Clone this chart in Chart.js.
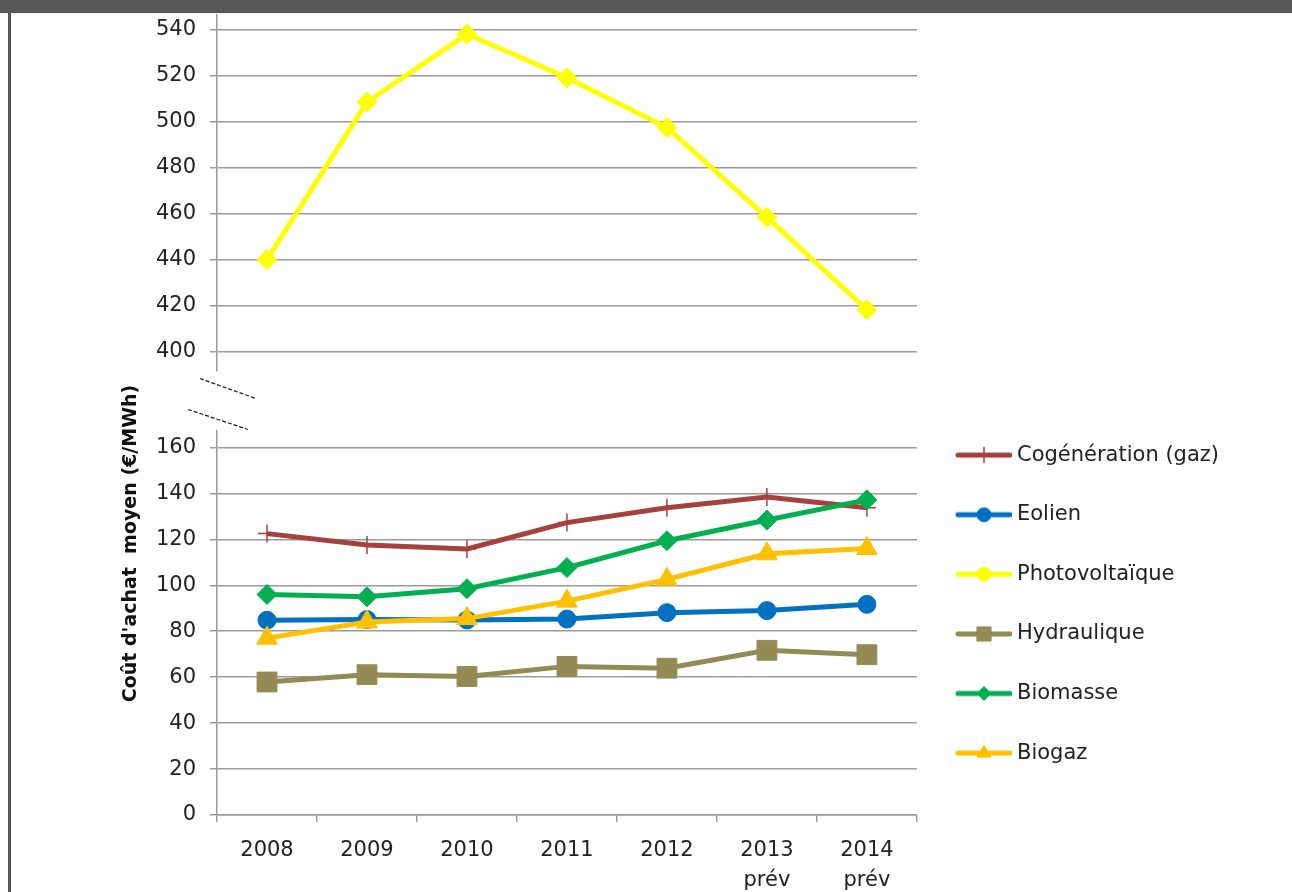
<!DOCTYPE html>
<html>
<head>
<meta charset="utf-8">
<script src="https://cdn.jsdelivr.net/npm/chart.js@4.4.0/dist/chart.umd.min.js"></script>
<style>
  html, body { margin: 0; padding: 0; background: #fff; overflow: hidden; }
  #wrap { position: relative; width: 1292px; height: 892px; }
  #wrap canvas { position: absolute; left: 0; top: 0; }
  #topbar { position: absolute; left: 0; top: 0; width: 1292px; height: 13px; background: #585858; }
  #leftbar { position: absolute; left: 8px; top: 13px; width: 3px; height: 879px; background: #585858; }
</style>
</head>
<body>
<div id="wrap">
  <canvas id="chart" width="1292" height="892"></canvas>
  <div id="topbar"></div>
  <div id="leftbar"></div>
</div>
<script>
/**
 * Coût d'achat moyen par filière (€/MWh), axe coupé
 */

// Categories
const YEARS = ['2008', '2009', '2010', '2011', '2012', ['2013', 'prév'], ['2014', 'prév']];

// Series values (€/MWh)
const COGENERATION = [122.5, 117.5, 115.8, 127.3, 133.8, 138.4, 133.8];
const EOLIEN = [84.8, 85.1, 84.9, 85.3, 88.1, 89.0, 91.7];
const PHOTOVOLTAIQUE = [440.0, 508.6, 538.2, 519.2, 497.5, 458.4, 418.2];
const HYDRAULIQUE = [57.9, 61.1, 60.3, 64.7, 63.9, 71.7, 69.8];
const BIOMASSE = [96.0, 95.0, 98.5, 107.7, 119.4, 128.4, 137.2];
const BIOGAZ = [77.0, 84.0, 85.5, 93.1, 102.6, 113.7, 116.0];

// Tick labels of the two parts of the broken axis
const UPPER_TICKS = [400, 420, 440, 460, 480, 500, 520, 540];
const LOWER_TICKS = [0, 20, 40, 60, 80, 100, 120, 140, 160];

const Y_TITLE = "Coût d'achat  moyen (€/MWh)";

const FONT = '"DejaVu Sans", Verdana, sans-serif';
const GRID = '#9a9a9a';
const TEXT = '#222';

const SERIES = [
    { label: 'Cogénération (gaz)', data: COGENERATION, color: '#A5413E', marker: 'cross', radius: 9, legendMarker: 'cross', legendRadius: 8, axis: 'yLow' },
    { label: 'Eolien', data: EOLIEN, color: '#0070C0', marker: 'circle', radius: 9, legendMarker: 'circle', legendRadius: 7, axis: 'yLow' },
    { label: 'Photovoltaïque', data: PHOTOVOLTAIQUE, color: '#FFFF00', marker: 'rectRot', radius: 10, legendMarker: 'circle', legendRadius: 7, axis: 'yTop' },
    { label: 'Hydraulique', data: HYDRAULIQUE, color: '#948A54', marker: 'rect', radius: 14, legendMarker: 'rect', legendRadius: 10, axis: 'yLow' },
    { label: 'Biomasse', data: BIOMASSE, color: '#00B050', marker: 'rectRot', radius: 10, legendMarker: 'rectRot', legendRadius: 7, axis: 'yLow' },
    { label: 'Biogaz', data: BIOGAZ, color: '#FFC000', marker: 'triangle', radius: 12, legendMarker: 'triangle', legendRadius: 8, axis: 'yLow' }
];

/**
 * Legend sample: a short line with the marker in its middle
 */
function makeLegendImage(s) {
    const c = document.createElement('canvas');
    c.width = 62;
    c.height = 26;
    const g = c.getContext('2d');
    g.strokeStyle = s.color;
    g.fillStyle = s.color;
    g.lineWidth = 5;
    g.lineCap = 'round';
    g.beginPath();
    g.moveTo(8, 13);
    g.lineTo(60, 13);
    g.stroke();
    const bw = s.legendMarker === 'cross' ? 1.5 : 1;
    g.lineWidth = bw;
    g.lineCap = 'butt';
    if (Chart.helpers && Chart.helpers.drawPoint) {
        Chart.helpers.drawPoint(g, { pointStyle: s.legendMarker, radius: s.legendRadius, borderWidth: bw, rotation: 0 }, 34, 13);
    }
    return c;
}

// Cut marks between the two parts of the axis + rotated axis title
const axisDecor = {
    id: 'axisDecor',
    afterDraw(chart) {
        const { ctx, chartArea, scales } = chart;
        const top = scales.yTop;
        const low = scales.yLow;
        ctx.save();
        ctx.strokeStyle = '#1a1a1a';
        ctx.lineWidth = 1.2;
        ctx.setLineDash([4, 2]);
        ctx.beginPath();
        ctx.moveTo(chartArea.left - 17, top.bottom + 8);
        ctx.lineTo(chartArea.left + 39, top.bottom + 28);
        ctx.moveTo(chartArea.left - 29, low.top - 21);
        ctx.lineTo(chartArea.left + 31, low.top - 1);
        ctx.stroke();
        ctx.setLineDash([]);

        ctx.translate(chartArea.left - 86, low.top + 113);
        ctx.rotate(-Math.PI / 2);
        ctx.font = 'bold 19px ' + FONT;
        ctx.fillStyle = '#111';
        ctx.textAlign = 'center';
        ctx.textBaseline = 'middle';
        ctx.fillText(Y_TITLE, 0, 0);
        ctx.restore();
    }
};

function yAxis(weight, stackWeight, min, max, ticks) {
    return {
        type: 'linear',
        position: 'left',
        stack: 'cost',
        weight: weight,
        stackWeight: stackWeight,
        min: min,
        max: max,
        afterBuildTicks: scale => {
            scale.ticks = ticks.map(v => ({ value: v }));
        },
        afterFit: scale => {
            scale.width = 217;
            scale.paddingTop = 0;
            scale.paddingBottom = 0;
        },
        grid: { color: GRID, lineWidth: 1.5, tickLength: 7, tickColor: GRID },
        border: { display: true, color: GRID, width: 1.5 },
        ticks: { color: TEXT, padding: 14, autoSkip: false, font: { family: FONT, size: 21 } }
    };
}

function createChart() {
    const ctx = document.getElementById('chart');

    const datasets = SERIES.map((s, i) => ({
        label: s.label,
        data: s.data,
        yAxisID: s.axis,
        order: -i,
        borderColor: s.color,
        backgroundColor: s.color,
        borderWidth: 5,
        pointStyle: s.marker,
        pointRadius: s.radius,
        pointHoverRadius: s.radius,
        pointBackgroundColor: s.color,
        pointBorderColor: s.color,
        pointBorderWidth: s.marker === 'cross' ? 1.5 : 1,
        tension: 0,
        fill: false
    }));

    new Chart(ctx, {
        type: 'line',
        data: { labels: YEARS, datasets: datasets },
        plugins: [axisDecor],
        options: {
            responsive: false,
            animation: false,
            layout: { padding: { top: 14, left: 0, right: 63, bottom: 0 } },
            plugins: {
                tooltip: { enabled: false },
                legend: {
                    position: 'right',
                    align: 'start',
                    maxWidth: 400,
                    title: { display: true, text: '', padding: { top: 380, bottom: 0 }, font: { size: 10 } },
                    labels: {
                        usePointStyle: true,
                        pointStyleWidth: 51,
                        padding: 38.6,
                        color: TEXT,
                        font: { family: FONT, size: 21 },
                        generateLabels: chart => chart.data.datasets.map((ds, i) => ({
                            text: ds.label,
                            datasetIndex: i,
                            pointStyle: makeLegendImage(SERIES[i]),
                            fontColor: TEXT,
                            lineWidth: 0,
                            hidden: !chart.isDatasetVisible(i)
                        }))
                    }
                }
            },
            scales: {
                x: {
                    type: 'category',
                    offset: true,
                    afterFit: scale => { scale.height = 77; },
                    grid: { display: true, drawOnChartArea: false, offset: true, tickLength: 7, color: GRID, lineWidth: 1.5 },
                    border: { display: true, color: GRID, width: 1.5 },
                    ticks: { color: TEXT, padding: 14, maxRotation: 0, autoSkip: false, font: { family: FONT, size: 21, lineHeight: 1.4 } }
                },
                yLow: yAxis(1, 385, 0, 167.4, LOWER_TICKS),
                yGap: {
                    type: 'linear',
                    position: 'left',
                    stack: 'cost',
                    weight: 2,
                    stackWeight: 60,
                    afterFit: scale => { scale.width = 217; scale.paddingTop = 0; scale.paddingBottom = 0; },
                    grid: { display: false },
                    border: { display: false },
                    ticks: { display: false }
                },
                yTop: yAxis(3, 356, 391.7, 546.5, UPPER_TICKS)
            }
        }
    });
}

document.addEventListener('DOMContentLoaded', createChart);
</script>
</body>
</html>
